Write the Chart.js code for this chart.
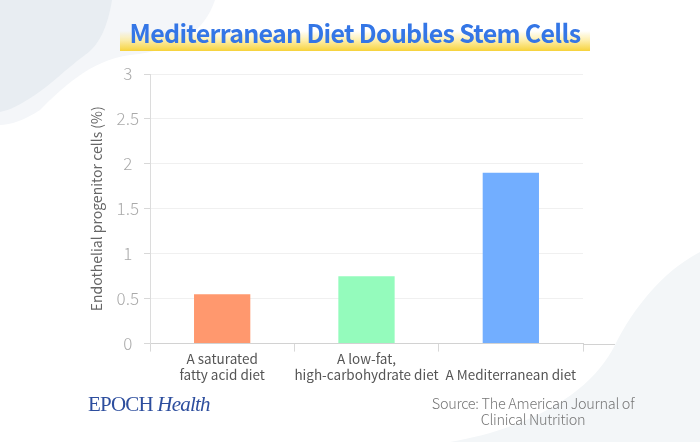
<!DOCTYPE html>
<html>
<head>
<meta charset="utf-8">
<script src="https://cdn.jsdelivr.net/npm/chart.js@4/dist/chart.umd.min.js"></script>
<style>
  html, body { margin: 0; padding: 0; }
  body { width: 700px; height: 442px; position: relative; overflow: hidden; background: #ffffff; font-family: "Noto Sans CJK SC", "Noto Sans", sans-serif; }
  svg.bg { position: absolute; left: 0; top: 0; }
  #wrap { position: absolute; left: 0; top: 0; width: 700px; height: 442px; }
  .title { position: absolute; left: 120px; top: 12px; width: 470px; height: 40px; text-align: center; }
  .title .hl { position: absolute; left: 0; top: 19px; width: 470px; height: 20px; background: linear-gradient(to bottom, rgba(255,245,190,0), rgba(253,232,140,0.7) 45%, #f7d33c); }
  .title .tx { position: relative; font-weight: 700; font-size: 25px; letter-spacing: -0.7px; color: #3476e6; line-height: 40px; white-space: nowrap; }
  .brand { position: absolute; left: 88px; top: 392px; font-family: "Liberation Serif", "DejaVu Serif", serif; font-size: 21px; color: #2d4e9e; letter-spacing: -0.8px; }
  .brand i { font-style: italic; }
  .source { position: absolute; left: 418px; top: 395px; width: 230px; text-align: center; font-size: 14.5px; font-weight: 300; color: #777; line-height: 16px; letter-spacing: -0.3px; }
</style>
</head>
<body>
<svg class="bg" width="700" height="442" viewBox="0 0 700 442">
  <path d="M0,0 L215,0 C205,30 180,50 130,55 C90,60 60,90 40,110 C25,120 10,125 0,125 Z" fill="#f4f6f9"/>
  <path d="M0,0 L112,0 C108,25 100,45 85,55 C65,70 50,85 35,95 C20,105 10,110 0,112 Z" fill="#e8edf2"/>
  <path d="M700,252 C665,270 635,305 615,345 C595,385 545,425 450,442 L700,442 Z" fill="#f3f6f8"/>
</svg>
<div id="wrap"><canvas id="c"></canvas></div>
<div class="title"><div class="hl"></div><div class="tx">Mediterranean Diet Doubles Stem Cells</div></div>
<div class="brand">EPOCH <i>Health</i></div>
<div class="source">Source: The American Journal of<br>Clinical Nutrition</div>
<script>
const categories = [["A saturated", "fatty acid diet"], ["A low-fat,", "high-carbohydrate diet"], "A Mediterranean diet"];
const values = [0.55, 0.75, 1.9];
const barColors = ["#ff986e", "#94fbbc", "#72aeff"];
const yTicks = [0, 0.5, 1, 1.5, 2, 2.5, 3];
const yTitle = "Endothelial progenitor cells (%)";

const axisExtend = {
  id: 'axisExtend',
  afterDraw(chart) {
    const ctx = chart.ctx, a = chart.chartArea;
    ctx.save();
    ctx.strokeStyle = '#d2d2d2';
    ctx.lineWidth = 1;
    ctx.beginPath();
    ctx.moveTo(a.right, Math.round(a.bottom) + 0.5);
    ctx.lineTo(a.right + 32, Math.round(a.bottom) + 0.5);
    ctx.stroke();
    ctx.restore();
  }
};

new Chart(document.getElementById('c'), {
  type: 'bar',
  data: {
    labels: categories,
    datasets: [{ data: values, backgroundColor: barColors, barPercentage: 0.39, categoryPercentage: 1 }]
  },
  options: {
    responsive: true,
    maintainAspectRatio: false,
    animation: false,
    layout: { padding: { left: 84, right: 117, top: 74, bottom: 44 } },
    plugins: { legend: { display: false }, tooltip: { enabled: false } },
    scales: {
      x: {
        grid: { drawOnChartArea: false, drawTicks: true, tickLength: 8, color: '#d8d8d8', offset: true },
        border: { color: '#d2d2d2' },
        ticks: { color: '#555', crossAlign: 'far', padding: 7, maxRotation: 0, autoSkip: false,
                 font: { family: '"Noto Sans CJK SC", "Noto Sans", sans-serif', size: 13.5 } }
      },
      y: {
        min: 0, max: 3,
        afterBuildTicks(scale) { scale.ticks = yTicks.map(v => ({ value: v })); },
        afterFit(scale) { scale.width = 66; },
        grid: { color: '#f0f0f0', tickColor: '#d8d8d8', tickLength: 6 },
        border: { color: '#dcdcdc' },
        ticks: { color: '#aaaaaa', padding: 5, crossAlign: 'center', callback: v => String(v),
                 font: { family: '"Noto Sans CJK SC", "Noto Sans", sans-serif', size: 17, weight: 300 } },
        title: { display: true, text: yTitle, color: '#666', padding: { top: 4, bottom: 0 },
                 font: { family: '"Noto Sans CJK SC", "Noto Sans", sans-serif', size: 14 } }
      }
    }
  },
  plugins: [axisExtend]
});
</script>
</body>
</html>
